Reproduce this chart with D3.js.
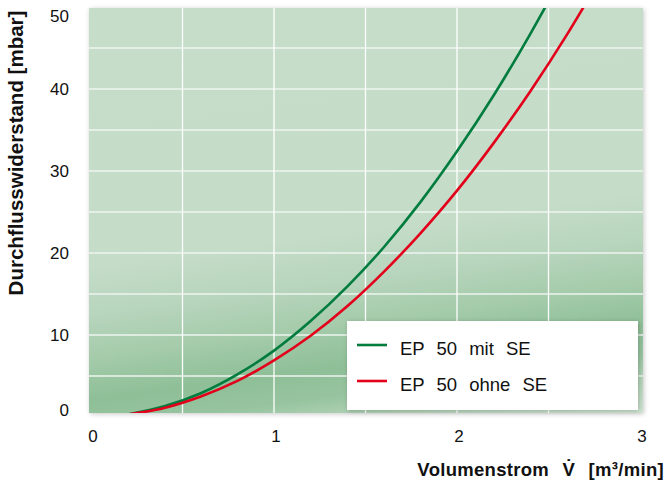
<!DOCTYPE html>
<html>
<head>
<meta charset="utf-8">
<script src="https://cdn.jsdelivr.net/npm/d3@7"></script>
<style>
  body { margin: 0; background: #fff; }
  svg { display: block; font-family: "Liberation Sans", Arial, Helvetica, sans-serif; }
</style>
</head>
<body>
<div id="chart"></div>
<script>
// Data (volume flow m3/min vs. pressure drop mbar)
var seriesNames = ['EP 50 mit SE', 'EP 50 ohne SE'];
var seriesColors = ['#007c3e', '#e2001a'];
var flowMit   = [0.2, 0.4, 0.6, 0.8, 1.0, 1.2,  1.4,  1.6,  1.8,  2.0,  2.2,  2.4,  2.6];
var pressMit  = [0.3, 1.3, 2.9, 5.2, 8.1, 11.7, 15.9, 20.7, 26.2, 32.4, 39.2, 46.7, 54.8];
var flowOhne  = [0.2, 0.4, 0.6, 0.8, 1.0, 1.2, 1.4,  1.6,  1.8,  2.0,  2.2,  2.4,  2.6,  2.8];
var pressOhne = [0.3, 1.1, 2.5, 4.4, 6.9, 9.9, 13.5, 17.7, 22.4, 27.6, 33.4, 39.7, 46.6, 54.1];
var xTicks = [0, 1, 2, 3];
var yTicks = [0, 10, 20, 30, 40, 50];
var xGrid = [0.5, 1, 1.5, 2, 2.5];
var yGrid = [5, 10, 15, 20, 25, 30, 35, 40, 45];

var width = 666, height = 485;
var plot = {left: 89, top: 8, right: 643, bottom: 413};

var x = d3.scaleLinear().domain([0, 3]).range([91, 640]);
var y = d3.scaleLinear().domain([0, 50]).range([417, 7]);

var svg = d3.select('#chart').append('svg')
    .attr('width', width)
    .attr('height', height);

var defs = svg.append('defs');

// background gradient, bands slanting up to the right
var grad = defs.append('linearGradient')
    .attr('id', 'bg')
    .attr('gradientUnits', 'userSpaceOnUse')
    .attr('x1', 340).attr('y1', 8)
    .attr('x2', 399).attr('y2', 445);
[[0, '#c6ddca'], [0.55, '#c4dcc8'], [0.66, '#b8d5bd'], [0.77, '#a4cbaa'],
 [0.87, '#8ebf97'], [0.94, '#97c49f'], [1.0, '#b3d3b8'], [1.08, '#cfe4d2']].forEach(function(s) {
  grad.append('stop').attr('offset', s[0] / 1.08).attr('stop-color', s[1]);
});

var shadow = defs.append('filter').attr('id', 'shadow')
    .attr('x', '-5%').attr('y', '-5%').attr('width', '110%').attr('height', '110%');
shadow.append('feDropShadow')
    .attr('dx', 1).attr('dy', 1).attr('stdDeviation', 2.5)
    .attr('flood-color', '#000').attr('flood-opacity', 0.22);

defs.append('clipPath').attr('id', 'clip')
  .append('rect')
    .attr('x', plot.left).attr('y', plot.top)
    .attr('width', plot.right - plot.left)
    .attr('height', plot.bottom - plot.top);

// plot background
svg.append('rect')
    .attr('x', plot.left).attr('y', plot.top)
    .attr('width', plot.right - plot.left)
    .attr('height', plot.bottom - plot.top)
    .attr('fill', 'url(#bg)')
    .attr('filter', 'url(#shadow)');

// grid
var grid = svg.append('g').attr('clip-path', 'url(#clip)');
grid.selectAll('.hgrid').data(yGrid).enter().append('line')
    .attr('x1', plot.left).attr('x2', plot.right)
    .attr('y1', function(d) { return y(d); })
    .attr('y2', function(d) { return y(d); })
    .attr('stroke', '#eef5ef')
    .attr('stroke-width', 1.5);
grid.selectAll('.vgrid').data(xGrid).enter().append('line')
    .attr('y1', plot.top).attr('y2', plot.bottom)
    .attr('x1', function(d) { return x(d); })
    .attr('x2', function(d) { return x(d); })
    .attr('stroke', '#ffffff')
    .attr('stroke-width', 1.3);

// curves
var line = d3.line()
    .x(function(d) { return x(d[0]); })
    .y(function(d) { return y(d[1]); })
    .curve(d3.curveMonotoneX);

var curves = [d3.zip(flowMit, pressMit), d3.zip(flowOhne, pressOhne)];
grid.selectAll('.curve').data(curves).enter().append('path')
    .attr('fill', 'none')
    .attr('stroke', function(d, i) { return seriesColors[i]; })
    .attr('stroke-width', 2.6)
    .attr('d', line);

// y tick labels (end labels kept inside the plot)
svg.selectAll('.ytick').data(yTicks).enter().append('text')
    .attr('x', 69)
    .attr('y', function(d) { return Math.max(16, Math.min(410, y(d))); })
    .attr('dy', '0.35em')
    .attr('text-anchor', 'end')
    .style('font-size', '17px')
    .attr('fill', '#111')
    .text(function(d) { return d; });

// x tick labels
svg.selectAll('.xtick').data(xTicks).enter().append('text')
    .attr('x', function(d) { return x(d) + 2; })
    .attr('y', 442)
    .attr('text-anchor', 'middle')
    .style('font-size', '17px')
    .attr('fill', '#111')
    .text(function(d) { return d; });

// axis titles
svg.append('text')
    .attr('x', 664)
    .attr('y', 476)
    .attr('text-anchor', 'end')
    .style('font-size', '18.5px')
    .style('font-weight', 'bold')
    .style('word-spacing', '8px')
    .style('letter-spacing', '0.3px')
    .attr('fill', '#111')
    .text('Volumenstrom V\u0307 [m\u00b3/min]');

svg.append('text')
    .attr('transform', 'translate(23,153) rotate(-90)')
    .attr('text-anchor', 'middle')
    .style('font-size', '20.5px')
    .style('font-weight', 'bold')
    .attr('fill', '#111')
    .text('Durchflusswiderstand [mbar]');

// legend
var legend = svg.append('g');
legend.append('rect')
    .attr('x', 347).attr('y', 321)
    .attr('width', 291).attr('height', 89)
    .attr('fill', '#fff')
    .attr('filter', 'url(#shadow)');
seriesNames.forEach(function(name, i) {
  var ly = 345 + i * 36;
  legend.append('line')
      .attr('x1', 357).attr('x2', 387)
      .attr('y1', ly).attr('y2', ly)
      .attr('stroke', seriesColors[i])
      .attr('stroke-width', 2.6);
  legend.append('text')
      .attr('x', 400).attr('y', ly + 10)
      .style('font-size', '18.5px')
      .style('word-spacing', '7px')
      .attr('fill', '#111')
      .text(name);
});
</script>
</body>
</html>
